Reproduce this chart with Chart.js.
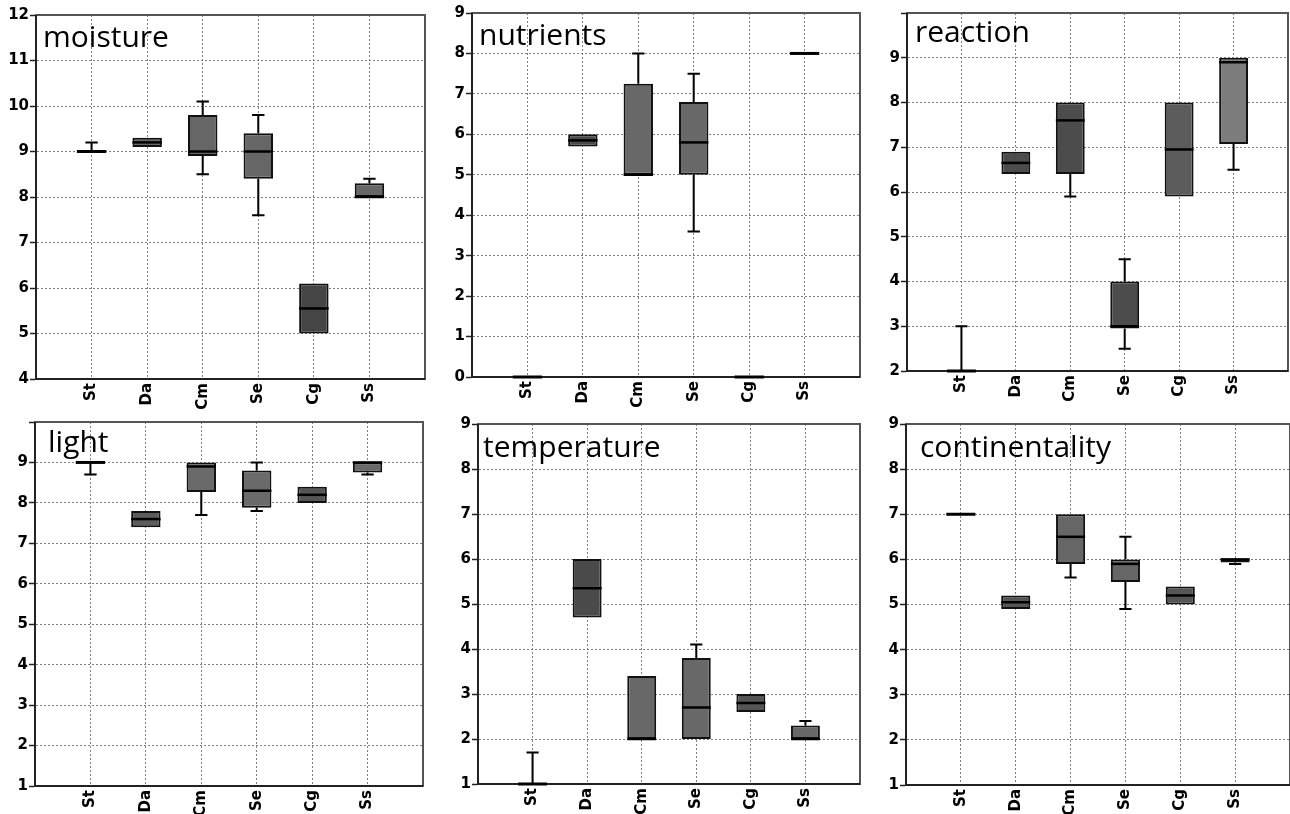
<!DOCTYPE html>
<html>
<head>
<meta charset="utf-8">
<script src="https://cdn.jsdelivr.net/npm/chart.js@4/dist/chart.umd.min.js"></script>
<style>
  body { margin: 0; background: #fff; overflow: hidden; width: 1290px; height: 814px; position: relative; }
  canvas { position: absolute; }
</style>
</head>
<body>
<script>
// species groups on the x axis
const groups = ['St', 'Da', 'Cm', 'Se', 'Cg', 'Ss'];

// each row: [min, q1, median, q3, max]
const moisture = [[9, 9, 9, 9, 9.2], [9.1, 9.1, 9.2, 9.3, 9.3], [8.5, 8.9, 9.0, 9.8, 10.1], [7.6, 8.4, 9.0, 9.4, 9.8], [5.0, 5.0, 5.55, 6.1, 6.1], [8.0, 8.0, 8.0, 8.3, 8.4]];
const nutrients = [[0, 0, 0, 0, 0], [5.7, 5.7, 5.85, 6.0, 6.0], [5.0, 5.0, 5.0, 7.25, 8.0], [3.6, 5.0, 5.8, 6.8, 7.5], [0, 0, 0, 0, 0], [8, 8, 8, 8, 8]];
const reaction = [[2, 2, 2, 2, 3], [6.4, 6.4, 6.65, 6.9, 6.9], [5.9, 6.4, 7.6, 8.0, 8.0], [2.5, 2.95, 3.0, 4.0, 4.5], [5.9, 5.9, 6.95, 8.0, 8.0], [6.5, 7.07, 8.9, 9.0, 9.0]];
const light = [[8.7, 9, 9, 9, 9], [7.4, 7.4, 7.6, 7.8, 7.8], [7.7, 8.27, 8.9, 9.0, 9.0], [7.8, 7.88, 8.3, 8.8, 9.0], [8.0, 8.0, 8.2, 8.4, 8.4], [8.7, 8.75, 9.0, 9.0, 9.0]];
const temperature = [[1, 1, 1, 1, 1.7], [4.7, 4.7, 5.35, 6.0, 6.0], [2.0, 2.0, 2.0, 3.4, 3.4], [2.0, 2.0, 2.7, 3.8, 4.1], [2.6, 2.6, 2.8, 3.0, 3.0], [2.0, 2.0, 2.0, 2.3, 2.4]];
const continentality = [[7, 7, 7, 7, 7], [4.9, 4.9, 5.05, 5.2, 5.2], [5.6, 5.9, 6.5, 7.0, 7.0], [4.9, 5.5, 5.9, 6.0, 6.5], [5.0, 5.0, 5.2, 5.4, 5.4], [5.9, 5.93, 6.0, 6.0, 6.0]];

// axis ranges [min, max]
const moistureRange = [4, 12];
const nutrientsRange = [0, 9];
const reactionRange = [2, 10];
const lightRange = [1, 10];
const temperatureRange = [1, 9];
const continentalityRange = [1, 9];

// panel layout: chart area [left, top, right, bottom], title offset, box fills
const panels = [
  { title: 'moisture', rows: moisture, range: moistureRange, hideTop: false, area: [36, 15, 425, 379], tx: 7, ty: 32,
    fills: ['#666', '#666', '#666', '#666', '#454545', '#666'] },
  { title: 'nutrients', rows: nutrients, range: nutrientsRange, hideTop: false, area: [472, 13, 860, 377], tx: 7, ty: 32,
    fills: ['#666', '#4a4a4a', '#686868', '#686868', '#666', '#666'] },
  { title: 'reaction', rows: reaction, range: reactionRange, hideTop: true, area: [907, 13, 1288, 371], tx: 8, ty: 29,
    fills: ['#4c4c4c', '#4c4c4c', '#4c4c4c', '#4c4c4c', '#5c5c5c', '#7c7c7c'] },
  { title: 'light', rows: light, range: lightRange, hideTop: true, area: [35, 422, 423, 786], tx: 13, ty: 30,
    fills: ['#666', '#5c5c5c', '#6a6a6a', '#6a6a6a', '#555', '#6a6a6a'] },
  { title: 'temperature', rows: temperature, range: temperatureRange, hideTop: false, area: [478, 424, 860, 784], tx: 5, ty: 33,
    fills: ['#4a4a4a', '#4a4a4a', '#686868', '#686868', '#555', '#686868'] },
  { title: 'continentality', rows: continentality, range: continentalityRange, hideTop: false, area: [906, 424, 1290, 785], tx: 14, ty: 33,
    fills: ['#555', '#555', '#666', '#666', '#555', '#666'] }
];

const Y_W = 36, X_H = 34, PAD_TOP = 12, PAD_RIGHT = 4;

// frame behind the boxes, whiskers + medians + title on top
const boxPlugin = {
  id: 'boxes',
  beforeDatasetsDraw(chart) {
    const ctx = chart.ctx, a = chart.chartArea;
    ctx.save();
    ctx.lineWidth = 2;
    ctx.strokeStyle = '#555';
    ctx.strokeRect(a.left, a.top, a.right - a.left, a.bottom - a.top);
    ctx.strokeStyle = '#222';
    ctx.beginPath();
    ctx.moveTo(a.left, a.top); ctx.lineTo(a.left, a.bottom); ctx.lineTo(a.right, a.bottom);
    ctx.stroke();
    ctx.restore();
  },
  afterDatasetsDraw(chart, args, opts) {
    const ctx = chart.ctx;
    const y = chart.scales.y;
    const meta = chart.getDatasetMeta(0);
    ctx.save();
    ctx.strokeStyle = '#000';
    opts.rows.forEach((r, i) => {
      const bar = meta.data[i + 1];
      const x = bar.x, w = bar.width, cap = w * 0.42;
      const p = r.map(v => y.getPixelForValue(v));
      ctx.lineWidth = 2;
      ctx.beginPath();
      if (r[4] > r[3]) {
        ctx.moveTo(x, p[3]); ctx.lineTo(x, p[4]);
        ctx.moveTo(x - cap / 2, p[4]); ctx.lineTo(x + cap / 2, p[4]);
      }
      if (r[0] < r[1]) {
        ctx.moveTo(x, p[1]); ctx.lineTo(x, p[0]);
        ctx.moveTo(x - cap / 2, p[0]); ctx.lineTo(x + cap / 2, p[0]);
      }
      ctx.stroke();
      // flat boxes show only as a thick median line
      ctx.lineWidth = r[1] === r[3] ? 3 : 2.5;
      ctx.beginPath();
      ctx.moveTo(x - w / 2, p[2]); ctx.lineTo(x + w / 2, p[2]);
      ctx.stroke();
    });
    const a = chart.chartArea;
    ctx.fillStyle = '#000';
    ctx.font = '30px "Open Sans"';
    ctx.textBaseline = 'alphabetic';
    ctx.fillText(opts.title, a.left + opts.tx, a.top + opts.ty);
    ctx.restore();
  }
};

function createPanel(p) {
  const [L, T, R, B] = p.area;
  const canvas = document.createElement('canvas');
  canvas.width = (R - L) + Y_W + PAD_RIGHT;
  canvas.height = (B - T) + PAD_TOP + X_H;
  canvas.style.left = (L - Y_W) + 'px';
  canvas.style.top = (T - PAD_TOP) + 'px';
  document.body.appendChild(canvas);

  const labels = ['', ...groups, ''];
  const boxes = [null, ...p.rows.map(r => [r[1], r[3]]), null];
  const fills = ['#000', ...p.fills, '#000'];
  const tickFont = { family: 'DejaVu Sans', size: 15, weight: 'bold' };

  new Chart(canvas, {
    type: 'bar',
    data: {
      labels: labels,
      datasets: [{
        data: boxes,
        backgroundColor: fills,
        borderColor: '#111',
        borderWidth: 2,
        borderSkipped: false,
        barPercentage: 0.53,
        categoryPercentage: 1
      }]
    },
    options: {
      responsive: false,
      animation: false,
      layout: { padding: { top: PAD_TOP, right: PAD_RIGHT, left: 0, bottom: 0 } },
      plugins: {
        legend: { display: false },
        tooltip: { enabled: false },
        boxes: { rows: p.rows, title: p.title, tx: p.tx, ty: p.ty }
      },
      scales: {
        x: {
          type: 'category',
          offset: false,
          grid: { offset: false, drawTicks: false, color: '#808080', lineWidth: 1 },
          border: { dash: [2, 2], color: '#222', width: 2 },
          ticks: { autoSkip: false, minRotation: 90, maxRotation: 90, padding: 4, color: '#000', font: tickFont },
          afterFit: s => { s.height = X_H; s.paddingLeft = 0; s.paddingRight = 0; }
        },
        y: {
          min: p.range[0],
          max: p.range[1],
          grid: { color: '#808080', lineWidth: 1, tickLength: 6, tickColor: '#222', tickWidth: 1.5, tickBorderDash: [10, 0] },
          border: { dash: [2, 2], color: '#222', width: 2 },
          ticks: {
            stepSize: 1,
            padding: 1,
            color: '#000',
            font: tickFont,
            callback: v => (p.hideTop && v === p.range[1]) ? '' : v
          },
          afterFit: s => { s.width = Y_W; s.paddingTop = 0; s.paddingBottom = 0; }
        }
      }
    },
    plugins: [boxPlugin]
  });
}

panels.forEach(createPanel);
</script>
</body>
</html>
